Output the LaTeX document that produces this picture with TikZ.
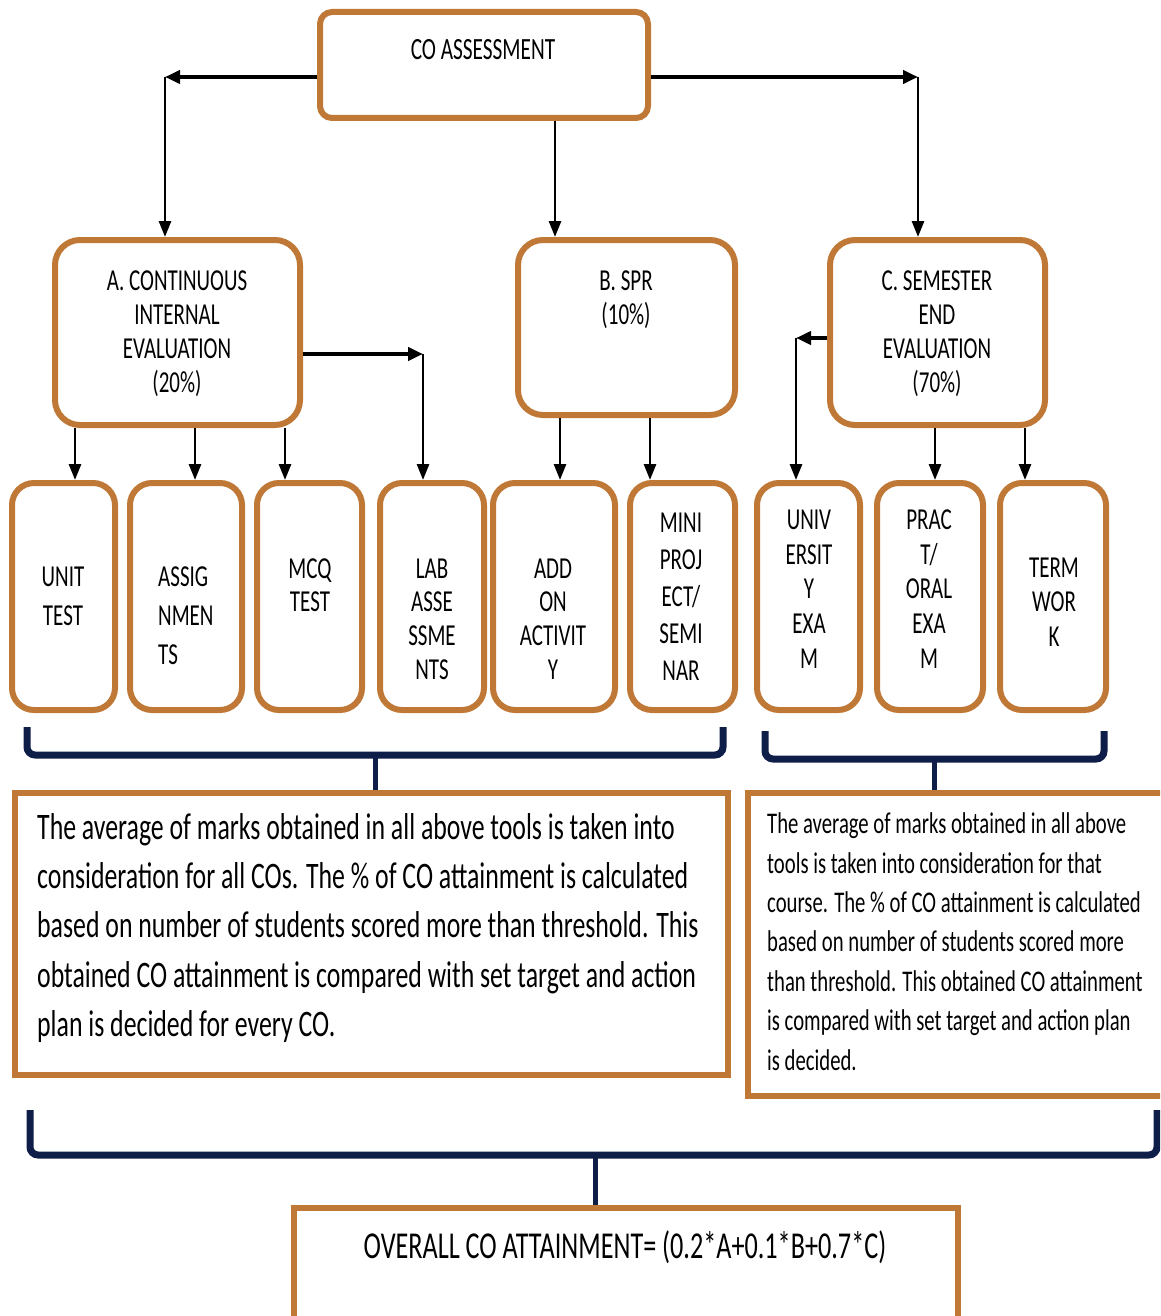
\documentclass[tikz,border=0pt]{standalone}
\usepackage{fontspec}
\setmainfont{Carlito}
\usetikzlibrary{arrows.meta,fit,calc}
\definecolor{obrd}{RGB}{192,120,55}
\definecolor{navy}{RGB}{14,30,72}
\newcommand\TB[4]{\scalebox{1}[1.45]{\fontsize{#1}{#2}\selectfont\begin{tabular}{@{}#3@{}}#4\end{tabular}}}
\begin{document}
\begin{tikzpicture}[x=1pt,y=-1pt,
  rbox/.style={draw=obrd, line width=6pt, fill=white, rounded corners=22pt, inner sep=0pt},
  sbox/.style={draw=obrd, line width=5.5pt, fill=white, inner sep=0pt},
  lbl/.style={inner sep=0pt, text=black},
  arr/.style={line width=2.8pt, -{Triangle[length=16pt,width=12pt]}},
  harr/.style={line width=4.5pt, -{Triangle[length=15pt,width=13pt]}},
  brace/.style={draw=navy, line width=7pt, rounded corners=8pt},
  tick/.style={draw=navy, line width=5pt}]
\path[use as bounding box] (0,0) rectangle (1160,1316);
\clip (0,0) rectangle (1160,1316);
\fill[white] (0,0) rectangle (1160,1316);

% top box
\node[rbox, rounded corners=12pt, fit={(320,12) (648,118)}] (co) {};
\node[lbl] (cot) at (483,52) {\TB{21.3}{25}{c}{CO ASSESSMENT}};

% level 1
\node[rbox, rounded corners=25pt, fit={(55,240) (300,425)}] (A) {};
\node[lbl] (At) at (177,335) {\TB{21}{23.4}{c}{A. CONTINUOUS\\INTERNAL\\EVALUATION\\(20\%)}};
\node[rbox, rounded corners=25pt, fit={(518,240) (735,415)}] (B) {};
\node[lbl] (Bt) at (626,301) {\TB{21}{23.4}{c}{B. SPR\\(10\%)}};
\node[rbox, rounded corners=25pt, fit={(830,240) (1045,425)}] (C) {};
\node[lbl] (Ct) at (937,335) {\TB{21}{23.4}{c}{C. SEMESTER\\END\\EVALUATION\\(70\%)}};

% level 2
\node[rbox, fit={(12,483) (115,710)}] (u1) {};
\node[lbl] (u1t) at (63,598) {\TB{21}{27}{c}{UNIT\\TEST}};
\node[rbox, fit={(130,483) (242,710)}] (u2) {};
\node[lbl, anchor=west] (u2t) at (158,618) {\TB{21}{27}{l}{ASSIG\\NMEN\\TS}};
\node[rbox, fit={(257,483) (362,710)}] (u3) {};
\node[lbl] (u3t) at (310,588) {\TB{21}{23}{c}{MCQ\\TEST}};
\node[rbox, fit={(380,483) (484,710)}] (u4) {};
\node[lbl] (u4t) at (432,622) {\TB{21}{23.2}{c}{LAB\\ASSE\\SSME\\NTS}};
\node[rbox, fit={(493,483) (615,710)}] (u5) {};
\node[lbl] (u5t) at (553,622) {\TB{21}{23.2}{c}{ADD\\ON\\ACTIVIT\\Y}};
\node[rbox, fit={(630,483) (735,710)}] (u6) {};
\node[lbl] (u6t) at (681,599) {\TB{21}{25.5}{c}{MINI\\PROJ\\ECT/\\SEMI\\NAR}};
\node[rbox, fit={(757,483) (860,710)}] (u7) {};
\node[lbl] (u7t) at (809,592) {\TB{21}{24}{c}{UNIV\\ERSIT\\Y\\EXA\\M}};
\node[rbox, fit={(877,483) (983,710)}] (u8) {};
\node[lbl] (u8t) at (929,592) {\TB{21}{24}{c}{PRAC\\T/\\ORAL\\EXA\\M}};
\node[rbox, fit={(1000,483) (1106,710)}] (u9) {};
\node[lbl] (u9t) at (1054,605) {\TB{21}{24.1}{c}{TERM\\WOR\\K}};

% text boxes
\node[sbox, fit={(15,793) (728,1075)}] (L) {};
\node[lbl, anchor=west] (Lt) at (37,928) {\TB{25.8}{34}{l}{The average of marks obtained in all above tools is taken into\\consideration for all COs. The \% of CO attainment is calculated\\based on number of students scored more than threshold. This\\obtained CO attainment is compared with set target and action\\plan is decided for every CO.}};
\node[sbox, fit={(748,793) (1166,1096)}] (R) {};
\node[lbl, anchor=west] (Rt) at (767,944) {\TB{20.7}{27.2}{l}{The average of marks obtained in all above\\tools is taken into consideration for that\\course. The \% of CO attainment is calculated\\based on number of students scored more\\than threshold. This obtained CO attainment\\is compared with set target and action plan\\is decided.}};
\node[sbox, fit={(294,1208) (958,1330)}] (O) {};
\node[lbl] (Ot) at (625,1250) {\TB{26.2}{30}{c}{OVERALL CO ATTAINMENT= (0.2*A+0.1*B+0.7*C)}};

% arrows from top
\coordinate (cl) at (165,77);
\coordinate (cr) at (918,77);
\coordinate (bm) at (555,0);
\draw[harr] (co.west |- cl) -- (cl);
\draw[arr] (cl) -- (cl |- A.north);
\draw[harr] (co.east |- cr) -- (cr);
\draw[arr] (cr) -- (cr |- C.north);
\draw[arr] (co.south -| bm) -- (B.north -| bm);

% arrows from A
\coordinate (x1) at (75,0);
\coordinate (x2) at (195,0);
\coordinate (x3) at (285,0);
\draw[arr] (A.south -| x1) -- (u1.north -| x1);
\draw[arr] (A.south -| x2) -- (u2.north -| x2);
\draw[arr] (A.south -| x3) -- (u3.north -| x3);
\coordinate (al) at (423,354);
\draw[harr, line width=3.8pt] (A.east |- al) -- (al);
\draw[arr] (al) -- (al |- u4.north);

% arrows from B
\coordinate (x5) at (560,0);
\coordinate (x6) at (650,0);
\draw[arr] (B.south -| x5) -- (u5.north -| x5);
\draw[arr] (B.south -| x6) -- (u6.north -| x6);

% arrows from C
\coordinate (cu) at (796,338);
\draw[harr, line width=3.8pt] (C.west |- cu) -- (cu);
\draw[arr] (cu) -- (cu |- u7.north);
\coordinate (x8) at (935,0);
\coordinate (x9) at (1025,0);
\draw[arr] (C.south -| x8) -- (u8.north -| x8);
\draw[arr] (C.south -| x9) -- (u9.north -| x9);

% braces
\draw[brace] (27,727) -- (27,755) -- (723,755) -- (723,727);
\coordinate (t1) at (375,755);
\draw[tick] (t1) -- (t1 |- L.north);
\draw[brace] (765,731) -- (765,759) -- (1104,759) -- (1104,731);
\coordinate (t2) at (934,759);
\draw[tick] (t2) -- (t2 |- R.north);
\draw[brace] (30,1110) -- (30,1155) -- (1157,1155) -- (1157,1110);
\coordinate (t3) at (595,1155);
\draw[tick] (t3) -- (t3 |- O.north);
\end{tikzpicture}
\end{document}
